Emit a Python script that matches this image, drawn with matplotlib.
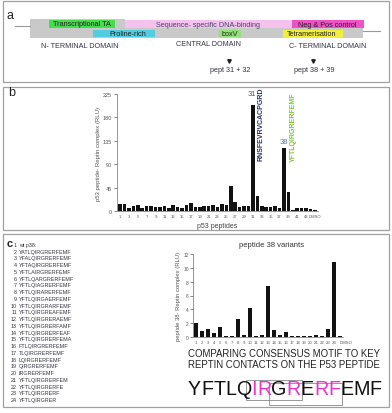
import numpy as np
import matplotlib
matplotlib.use("Agg")
from matplotlib import pyplot as plt
from matplotlib.patches import Rectangle

plt.rcParams['font.family'] = ['Liberation Sans', 'DejaVu Sans']

# ---------- data ----------
b_labels = [str(i) for i in range(1, 45)] + ['DMSO']
b_values = [14, 14, 6, 9, 12, 6, 10, 9, 7, 8,
            9, 5, 12, 8, 5, 11, 15, 7, 7, 10,
            10, 11, 8, 13, 11, 48, 18, 8, 10, 10,
            204, 29, 10, 8, 8, 10, 5, 121, 36, 2,
            6, 6, 6, 4, 1]
b_ticks = [str(i) for i in range(1, 44, 2)] + ['DMSO']

c_labels = [str(i) for i in range(1, 25)] + ['DMSO']
c_values = [2.05, 0.8, 1.1, 0.6, 1.5, 0.15, 0.15, 2.6, 0.3, 4.2,
            0.15, 0.3, 7.35, 1.0, 0.3, 0.7, 0.1, 0.1, 0.1, 0.1,
            0.35, 0.1, 1.1, 10.9, 0.1]

variants = ['wt p38:', 'YATLQIRGRERFEMF', 'YFALQIRGRERFEMF', 'YFTAQIRGRERFEMF',
            'YFTLAIRGRERFEMF', 'YFTLQARGRERFEMF', 'YFTLQIAGRERFEMF', 'YFTLQIRARERFEMF',
            'YFTLQIRGAERFEMF', 'YFTLQIRGRARFEMF', 'YFTLQIRGREAFEMF', 'YFTLQIRGRERAEMF',
            'YFTLQIRGRERFAMF', 'YFTLQIRGRERFEAF', 'YFTLQIRGRERFEMA', 'FTLQIRGRERFEMF',
            'TLQIRGRERFEMF', 'LQIRGRERFEMF', 'QIRGRERFEMF', 'IRGRERFEMF',
            'YFTLQIRGRERFEM', 'YFTLQIRGRERFE', 'YFTLQIRGRERF', 'YFTLQIRGRER']

motif = 'YFTLQIRGRERFEMF'
motif_hits = [5, 6, 8, 10, 11]   # 0-based letters drawn in magenta

W, H = 392, 414
fig = plt.figure(figsize=(W / 100, H / 100), dpi=100)
fig.patch.set_facecolor('white')

# overlay in pixel coordinates
ov = fig.add_axes([0, 0, 1, 1])
ov.set_xlim(0, W)
ov.set_ylim(H, 0)
ov.axis('off')

txt = '#333344'
edge = '#a0a0a0'

# panel frames
for (y0, y1) in [(2, 83), (88, 231), (235, 408)]:
    ov.add_patch(Rectangle((3, y0), 386, y1 - y0, fill=False, ec=edge, lw=0.9))

# ---------- panel a ----------
ov.text(7, 16, 'a', fontsize=9, color='#222222', va='center')
ov.plot([15, 30], [27, 27], color='#999999', lw=0.8)
ov.plot([363, 380], [32, 32], color='#999999', lw=0.8)
ov.add_patch(Rectangle((30, 29), 333, 9.5, color='#c9c9c9', lw=0))
ov.add_patch(Rectangle((30, 19.5), 95, 9.5, color='#c9c9c9', lw=0))
ov.add_patch(Rectangle((125, 21), 167, 8.3, color='#f4c2ec', lw=0))
ov.add_patch(Rectangle((49, 20.7), 66, 8.3, color='#46dc4e', lw=0))
ov.add_patch(Rectangle((292, 20.7), 72, 8.6, color='#ef52c6', lw=0))
ov.add_patch(Rectangle((93, 30.7), 62, 7.0, color='#52cde0', lw=0))
ov.add_patch(Rectangle((219, 30.7), 22, 7.0, color='#8fe276', lw=0))
ov.add_patch(Rectangle((283, 30.7), 60, 8.3, color='#f2ef3c', lw=0))

fs_a = 5.2
ov.text(82, 25, 'Transcriptional TA', fontsize=fs_a, ha='center', va='center', color='#222222')
ov.text(128, 34.2, 'Proline-rich', fontsize=fs_a, ha='center', va='center', color='#222222')
ov.text(208, 25.8, 'Sequence- specific DNA-binding', fontsize=fs_a, ha='center', va='center', color='#444466')
ov.text(230, 34.2, 'boxV', fontsize=fs_a, ha='center', va='center', color='#222222')
ov.text(327, 25.3, 'Neg & Pos control', fontsize=fs_a, ha='center', va='center', color='#222222')
ov.text(312, 35, 'Tetramerisation', fontsize=fs_a, ha='center', va='center', color='#222222')

ov.text(80, 46, 'N- TERMINAL DOMAIN', fontsize=fs_a, ha='center', va='center', color=txt)
ov.text(209, 45, 'CENTRAL DOMAIN', fontsize=fs_a, ha='center', va='center', color=txt)
ov.text(328, 46, 'C- TERMINAL DOMAIN', fontsize=fs_a, ha='center', va='center', color=txt)

for xa, lab in [(229, 'pept 31 + 32'), (313, 'pept 38 + 39')]:
    ov.plot(xa, 62, marker='v', ms=2.5, color='#222222')
    ov.text(xa + 1, 71, lab, fontsize=fs_a, ha='center', va='center', color=txt)

# ---------- panel b ----------
ov.text(8, 93, 'b', fontsize=9, color='#222222', va='center')

axb = fig.add_axes([117 / W, 1 - 212 / H, 201 / W, 117 / H])
pos_b = np.arange(1, len(b_values) + 1)
axb.bar(pos_b, b_values, width=0.8, color='#111111')
axb.set_xlim(0.3, 45.7)
axb.set_ylim(0, 225)
axb.set_yticks([0, 45, 90, 135, 180, 225])
axb.set_xticks(list(range(1, 44, 2)) + [45])
axb.set_xticklabels(b_ticks)
axb.tick_params(axis='y', labelsize=4, colors='#555555', length=2, width=0.5, pad=1.5)
axb.tick_params(axis='x', labelsize=3, colors='#555555', length=0, pad=2)
for s in ['top', 'right']:
    axb.spines[s].set_visible(False)
for s in ['left', 'bottom']:
    axb.spines[s].set_color('#888888')
    axb.spines[s].set_linewidth(0.6)
axb.patch.set_alpha(0)
axb.set_ylabel('p53 peptide- Reptin complex (RLU)', fontsize=4.3, color='#555555', labelpad=1)
axb.set_xlabel('p53 peptides', fontsize=5, color='#444444', labelpad=3)

ov.text(252, 95, '31', fontsize=5.5, ha='center', va='center', color='#555577')
ov.text(284, 143, '38', fontsize=5.5, ha='center', va='center', color='#5577aa')
ov.text(261, 88, 'RNSFEVRVCACPGRD', fontsize=5, fontweight='bold', rotation=90,
        ha='center', va='top', color='#22336b')
ov.text(293, 92, 'YFTLQIRGRERFEMF', fontsize=5, fontweight='bold', rotation=90,
        ha='center', va='top', color='#77cc33')

# ---------- panel c ----------
ov.text(7, 244, 'c', fontsize=8, color='#222222', va='center', fontweight='bold')
for i, v in enumerate(variants):
    yy = 245.5 + i * 6.74
    ov.text(17, yy, str(i + 1), fontsize=3.9, ha='right', va='center', color=txt)
    ov.text(19, yy, v, fontsize=3.9, ha='left', va='center', color=txt)

axc = fig.add_axes([193 / W, 1 - 338 / H, 150 / W, 83 / H])
pos_c = np.arange(1, len(c_values) + 1)
axc.bar(pos_c, c_values, width=0.75, color='#111111')
axc.set_xlim(0.5, 25.5)
axc.set_ylim(0, 12)
axc.set_yticks(range(0, 13, 2))
axc.set_xticks(pos_c)
axc.set_xticklabels(c_labels)
axc.get_xticklabels()[-1].set_ha('left')
axc.tick_params(axis='y', labelsize=3.5, colors='#555555', length=2, width=0.5, pad=1)
axc.tick_params(axis='x', labelsize=3.1, colors='#555555', length=0, pad=2)
for s in ['top', 'right']:
    axc.spines[s].set_visible(False)
for s in ['left', 'bottom']:
    axc.spines[s].set_color('#888888')
    axc.spines[s].set_linewidth(0.6)
axc.patch.set_alpha(0)
axc.set_ylabel('peptide 38- Reptin complex (RLU)', fontsize=4.2, color='#555555', labelpad=2)
ov.text(272, 245.5, 'peptide 38 variants', fontsize=5.5, ha='center', va='center', color='#333333')

ov.text(188, 354, 'COMPARING CONSENSUS MOTIF TO KEY', fontsize=6.9, ha='left', va='center', color='#222222')
ov.text(188, 365, 'REPTIN CONTACTS ON THE P53 PEPTIDE', fontsize=6.9, ha='left', va='center', color='#222222')

# big motif, letter by letter, placed by prefix width
renderer = fig.canvas.get_renderer()
fs_m = 14.2
x0, ym = 188, 390


def prefix_width(s):
    if not s:
        return 0.0
    t = ov.text(0, 0, s, fontsize=fs_m)
    w = t.get_window_extent(renderer).width
    t.remove()
    return w


lefts = [x0 + prefix_width(motif[:k]) for k in range(len(motif) + 1)]
for k, ch in enumerate(motif):
    col = '#ee33cc' if k in motif_hits else '#111111'
    ov.text(lefts[k], ym, ch, fontsize=fs_m, ha='left', va='center', color=col)

ov.add_patch(Rectangle((lefts[5] - 5, 380.5), lefts[9] - lefts[5] + 6, 20,
                       fill=False, ec='#888888', lw=0.6))
ov.add_patch(Rectangle((lefts[7] - 2, 383.5), lefts[12] - lefts[7] + 4, 22,
                       fill=False, ec='#888888', lw=0.6))

fig.savefig('out.png', dpi=100, facecolor='white')
